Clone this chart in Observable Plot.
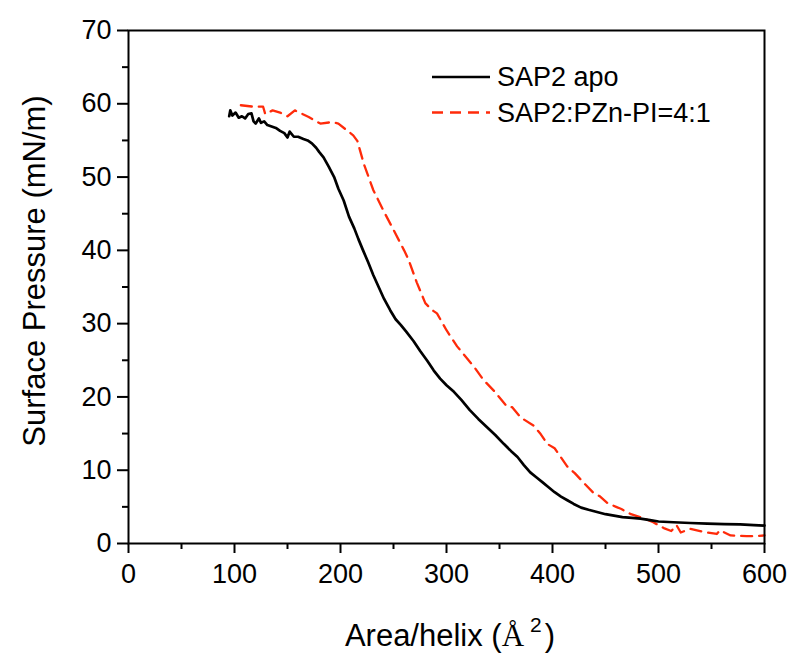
<!DOCTYPE html>
<html><head><meta charset="utf-8">
<script src="https://cdn.jsdelivr.net/npm/d3@7"></script>
<script src="https://cdn.jsdelivr.net/npm/@observablehq/plot@0.6"></script>
<style>body{margin:0;background:#fff} svg{display:block}</style>
</head><body><div id="chart"></div>
<script>
// SAP2 apo (solid black)
const apoArea = [95,96,98,101,104,107,110,113,116,118,120,123,125,128,131,135,139,143,147,150,152,156,160,165,169,173,177,180,184,189,194,198,203,208,213,217,221,226,231,236,241,247,252,257,262,269,275,282,288,294,300,307,314,322,330,338,346,354,361,367,373,379,385,391,396,402,408,414,420,427,434,442,450,458,466,475,483,492,500,514,530,546,562,577,590,600];
const apoPressure = [58.3,59.1,58.4,58.8,58.1,58.3,58.0,58.6,58.7,57.6,57.3,58.0,57.4,57.6,57.1,56.9,56.7,56.3,56.0,55.4,56.2,55.5,55.5,55.2,55.0,54.6,54.0,53.4,52.7,51.4,50.0,48.4,46.8,44.6,43.0,41.5,40.1,38.4,36.6,35.0,33.4,31.8,30.6,29.8,28.9,27.6,26.3,24.9,23.6,22.5,21.6,20.7,19.6,18.2,17.0,15.9,14.8,13.6,12.6,11.8,10.7,9.7,9.0,8.3,7.7,7.0,6.4,5.9,5.4,4.9,4.6,4.3,4.0,3.8,3.6,3.5,3.4,3.2,3.0,2.9,2.8,2.7,2.65,2.6,2.5,2.45];
// SAP2:PZn-PI=4:1 (dashed red)
const pzArea = [106,118,127,129,136,143,150,157,170,181,192,198,212,216,222,231,242,250,260,264,272,280,286,291,300,310,326,335,345,357,362,370,382,389,395,402,414,421,430,438,445,452,460,465,474,485,495,505,512,517,521,530,542,555,558,568,583,591,600];
const pzPressure = [59.8,59.6,59.6,58.6,59.1,58.8,58.3,59.1,58.2,57.3,57.5,57.3,55.7,54.9,51.8,48.2,45.0,42.8,40.0,38.8,35.6,32.8,31.9,31.4,29.1,26.9,24.1,22.3,20.8,18.7,18.6,17.2,16.1,14.9,13.6,13.0,10.5,9.6,8.2,7.0,6.4,5.5,5.0,4.7,4.0,3.5,2.9,2.1,1.7,2.5,1.5,2.0,1.6,1.3,1.8,1.1,1.0,1.0,1.1];

const seriesNames = ["SAP2 apo", "SAP2:PZn-PI=4:1"];
const seriesColors = ["black", "#ff2b0a"];
const xTicks = [0,100,200,300,400,500,600];
const xMinor = [50,150,250,350,450,550];
const yTicks = [0,10,20,30,40,50,60,70];
const yMinor = [5,15,25,35,45,55,65];
const xTitle = ["Area/helix (", "Å", "2", ")"];
const yTitle = "Surface Pressure (mN/m)";

const apo = apoArea.map((x, i) => ({x, y: apoPressure[i]}));
const pz = pzArea.map((x, i) => ({x, y: pzPressure[i]}));

const font = "'Liberation Sans', Arial, Helvetica, sans-serif";
const chart = Plot.plot({
  width: 800, height: 665,
  marginLeft: 128, marginRight: 36, marginTop: 30, marginBottom: 122,
  style: {fontFamily: font, color: "black", background: "white"},
  x: {domain: [0, 600], label: null},
  y: {domain: [0, 70], label: null},
  marks: [
    Plot.axisX({ticks: xTicks, tickSize: 10, tickPadding: 10, fontSize: 27, strokeWidth: 2, label: null, color: "black"}),
    Plot.axisX({ticks: xMinor, tickSize: 6, tickFormat: () => "", strokeWidth: 2, label: null, color: "black"}),
    Plot.axisY({ticks: yTicks, tickSize: 11, tickPadding: 6, fontSize: 27, strokeWidth: 2, label: null, color: "black"}),
    Plot.axisY({ticks: yMinor, tickSize: 6, tickFormat: () => "", strokeWidth: 2, label: null, color: "black"}),
    Plot.line(pz, {x: "x", y: "y", stroke: seriesColors[1], strokeWidth: 2.3, strokeDasharray: "11,7"}),
    Plot.line(apo, {x: "x", y: "y", stroke: seriesColors[0], strokeWidth: 2.7}),
    Plot.frame({stroke: "black", strokeWidth: 2})
  ]
});
document.getElementById("chart").appendChild(chart);

const svg = d3.select(chart);
// Legend
const lg = svg.append("g").attr("text-anchor", "start");
seriesNames.forEach((name, i) => {
  const y = 77 + i * 35.5;
  lg.append("line").attr("x1", 432).attr("x2", 490).attr("y1", y).attr("y2", y)
    .attr("stroke", seriesColors[i]).attr("stroke-width", 2.3)
    .attr("stroke-dasharray", i === 1 ? "11,7" : null);
  lg.append("text").attr("x", 497).attr("y", y + 9).attr("font-size", 27)
    .attr("text-anchor", "start")
    .attr("font-family", font).attr("fill", "black").text(name);
});
// X title
const xt = svg.append("text").attr("x", 450).attr("y", 646).attr("text-anchor", "middle")
  .attr("font-size", 31).attr("font-family", font).attr("fill", "black");
xt.append("tspan").text(xTitle[0]);
xt.append("tspan").attr("font-family", "'Liberation Serif', 'Times New Roman', serif").text(xTitle[1]);
xt.append("tspan").attr("dx", 6).attr("dy", -14).attr("font-size", 21).text(xTitle[2]);
xt.append("tspan").attr("dx", 3).attr("dy", 14).text(xTitle[3]);
// Y title
svg.append("text").attr("transform", "translate(45,271) rotate(-90)").attr("text-anchor", "middle")
  .attr("font-size", 31).attr("font-family", font).attr("fill", "black").text(yTitle);
</script></body></html>
